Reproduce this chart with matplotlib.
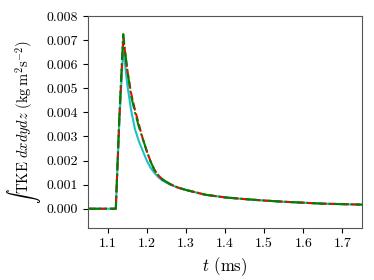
import matplotlib
matplotlib.use('Agg')
import matplotlib.pyplot as plt
import numpy as np

plt.rcParams['font.family'] = 'serif'
plt.rcParams['font.serif'] = ['cmr10', 'DejaVu Serif']
plt.rcParams['mathtext.fontset'] = 'cm'
plt.rcParams['axes.formatter.use_mathtext'] = True

# time (ms)
t = [1.05, 1.10, 1.121, 1.13, 1.14, 1.15, 1.16, 1.17, 1.18, 1.19, 1.20,
     1.21, 1.22, 1.23, 1.24, 1.26, 1.28, 1.30, 1.35, 1.40, 1.45, 1.50,
     1.55, 1.60, 1.65, 1.70, 1.75]

tke_cyan = [0.0, 0.0, 0.0, 0.0036, 0.0067, 0.0052, 0.0041, 0.0033, 0.0028,
            0.0024, 0.0020, 0.0017, 0.00148, 0.0013, 0.00117, 0.00100,
            0.00087, 0.00078, 0.00058, 0.00047, 0.00040, 0.00034, 0.00029,
            0.00025, 0.00021, 0.00019, 0.00017]
tke_red = [0.0, 0.0, 0.0, 0.0037, 0.0071, 0.0058, 0.0048, 0.0041, 0.0035,
           0.0029, 0.0024, 0.00196, 0.0016, 0.00138, 0.00122, 0.00102,
           0.00088, 0.00078, 0.00058, 0.00047, 0.00040, 0.00034, 0.00029,
           0.00025, 0.00021, 0.00019, 0.00017]
tke_green = [0.0, 0.0, 0.0, 0.0038, 0.00725, 0.0058, 0.0047, 0.0040, 0.0034,
             0.0029, 0.0024, 0.00195, 0.0016, 0.00138, 0.00122, 0.00102,
             0.00088, 0.00078, 0.00058, 0.00047, 0.00040, 0.00034, 0.00029,
             0.00025, 0.00021, 0.00019, 0.00017]

fig = plt.figure(figsize=(3.74, 2.8), dpi=100)
ax = fig.add_axes([88/374, 1 - 228/280, (362 - 88)/374, (228 - 16)/280])

ax.plot(t, tke_cyan, color='#20c0c8', linewidth=1.5, linestyle='-')
ax.plot(t, tke_red, color='red', linewidth=1.5, linestyle='--')
ax.plot(t, tke_green, color='green', linewidth=1.5, linestyle='-.')

ax.set_xlim(1.05, 1.75)
ax.set_ylim(-0.0008, 0.008)
ax.set_xticks([1.1, 1.2, 1.3, 1.4, 1.5, 1.6, 1.7])
ax.set_yticks(np.arange(0, 0.0081, 0.001))
ax.yaxis.set_major_formatter(plt.FuncFormatter(lambda v, _: f'{v:.3f}'))
ax.xaxis.set_major_formatter(plt.FuncFormatter(lambda v, _: f'{v:.1f}'))
ax.tick_params(labelsize=10)

for sp in ax.spines.values():
    sp.set_color('#555555')

ax.set_xlabel(r'$t$ (ms)', fontsize=12)
ax.set_ylabel(r'$\int\,\mathrm{TKE}\ dxdydz\ (\mathrm{kg\,m^2s^{-2}})$', fontsize=10.5)
ax.yaxis.set_label_coords(-0.165, 0.5)

fig.savefig('out.png', dpi=100)
